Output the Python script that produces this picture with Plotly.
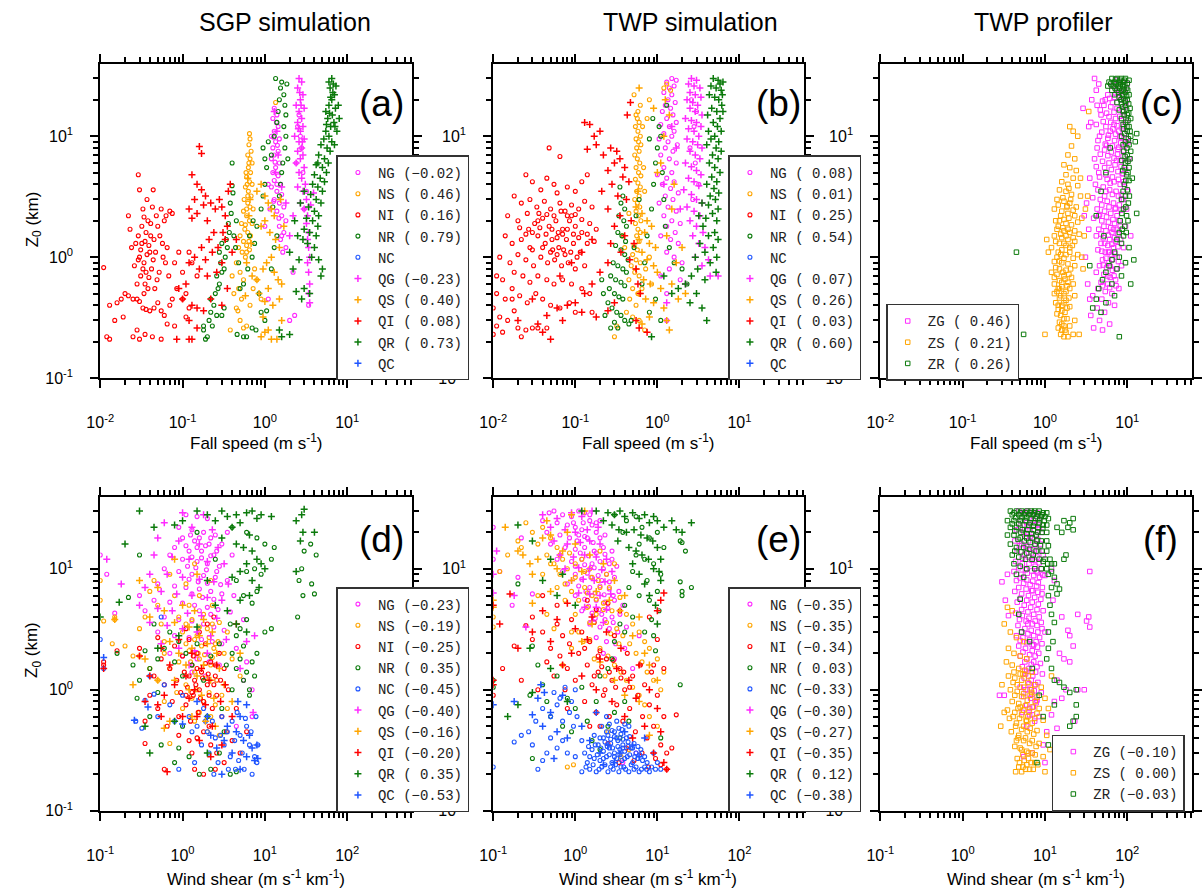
import plotly.graph_objects as go

# ---------------- text / categories ----------------
COL_TITLES = ["SGP simulation", "TWP simulation", "TWP profiler"]
PANEL_LABELS = ["(a)", "(b)", "(c)", "(d)", "(e)", "(f)"]
SIM_NAMES = ["NG", "NS", "NI", "NR", "NC", "QG", "QS", "QI", "QR", "QC"]
PROF_NAMES = ["ZG", "ZS", "ZR"]

CORR_A = [-0.02, 0.46, 0.16, 0.79, None, -0.23, 0.40, 0.08, 0.73, None]
CORR_B = [0.08, 0.01, 0.25, 0.54, None, 0.07, 0.26, 0.03, 0.60, None]
CORR_C = [0.46, 0.21, 0.26]
CORR_D = [-0.23, -0.19, -0.25, 0.35, -0.45, -0.40, -0.16, -0.20, 0.35, -0.53]
CORR_E = [-0.35, -0.35, -0.34, 0.03, -0.33, -0.30, -0.27, -0.35, 0.12, -0.38]
CORR_F = [-0.10, 0.00, -0.03]

X_TOP_TICKS = [0.01, 0.1, 1, 10]
X_TOP_TEXT = ["10<sup>-2</sup>", "10<sup>-1</sup>", "10<sup>0</sup>", "10<sup>1</sup>"]
X_BOT_TICKS = [0.1, 1, 10, 100]
X_BOT_TEXT = ["10<sup>-1</sup>", "10<sup>0</sup>", "10<sup>1</sup>", "10<sup>2</sup>"]
Y_TICKS = [0.1, 1, 10]
Y_TEXT = ["10<sup>-1</sup>", "10<sup>0</sup>", "10<sup>1</sup>"]
X_TOP_TITLE = "Fall speed (m s<sup>-1</sup>)"
X_BOT_TITLE = "Wind shear (m s<sup>-1</sup> km<sup>-1</sup>)"
Y_TITLE = "Z<sub>0</sub> (km)"

# ---------------- panel (a): SGP simulation, fall speed (x) vs Z0 (y) ----------------
A_NG = [(1.3,17),(1.4,15),(1.25,14),(1.45,12),(1.3,11),(1.2,10),(1.5,9.5),(1.35,9),(1.25,8),(1.45,7.5),(1.3,7),(1.2,6.5),
        (1.5,6),(1.35,5.5),(1.25,5),(1.45,4.7),(1.3,4.3),(1.55,4),(1.2,3.8),(1.4,3.5),(1.6,3.3),(1.3,3),(1.5,2.8),(1.7,2.6),
        (1.4,2.4),(1.6,2.2),(1.8,2.0),(1.5,1.8),(1.7,1.6),(1.55,1.4),(1.8,1.2),(1.65,1.1),(1.1,4),(1.15,2.5),(1.0,1.8),
        (2.5,12),(2.7,10),(2.6,15),(2.8,8),(2.4,6),(2.9,5),(3.2,3.5),(3.0,2.5),(2.2,0.75),(2.0,0.3),(2.3,0.33),(3.4,0.4),(1.1,0.45),
        (1.38,13),(1.28,9.8),(1.42,8.4),(1.33,6.1),(1.4,4.0),(1.28,2.9),(1.48,2.1),(1.6,1.5)]
A_NS = [(0.65,10.5),(0.66,9.5),(0.64,8.5),(0.68,7.5),(0.62,7),(0.66,6.5),(0.70,6),(0.63,5.5),(0.67,5),(0.60,4.6),(0.65,4.2),
        (0.70,4),(0.58,3.8),(0.63,3.5),(0.68,3.2),(0.56,3),(0.62,2.8),(0.66,2.6),(0.72,2.5),(0.55,2.4),(0.60,2.2),(0.65,2.0),
        (0.70,1.9),(0.52,1.9),(0.57,1.7),(0.62,1.6),(0.67,1.5),(0.50,1.5),(0.55,1.35),(0.60,1.25),(0.65,1.15),(0.48,1.2),
        (0.53,1.1),(0.58,1.0),(0.45,0.9),(0.50,0.75),(0.55,0.65),(0.48,0.55),(0.52,0.45),(0.45,0.38),(0.47,0.36),(0.50,0.3),
        (0.55,0.26),(0.60,0.27),(0.42,0.5),(0.40,0.7),(0.75,0.8),(0.8,0.65),(0.72,0.55),(0.66,0.4),(0.9,0.45),(0.38,0.25),
        (0.62,3.2),(0.59,5.0),(1.35,19),(0.64,6.0),(0.61,4.0),(0.6,2.5),(0.58,1.85),(0.64,1.35),(0.6,1.1)]
A_NI = [(0.030,1.0),(0.032,1.3),(0.034,0.9),(0.036,1.6),(0.038,2.0),(0.031,0.7),(0.035,0.6),(0.040,1.1),(0.042,0.8),
        (0.045,1.4),(0.048,2.2),(0.050,1.8),(0.033,2.5),(0.037,3.0),(0.030,3.6),(0.029,4.8),(0.044,3.6),(0.055,2.5),
        (0.060,2.0),(0.065,1.2),(0.070,2.4),(0.075,2.3),(0.058,1.0),(0.052,0.75),(0.046,0.55),(0.038,0.55),(0.034,0.5),
        (0.028,0.6),(0.026,0.85),(0.024,1.2),(0.022,2.2),(0.023,1.7),(0.027,1.3),(0.041,1.9),(0.047,1.1),(0.053,1.5),
        (0.062,0.9),(0.068,0.7),(0.080,0.9),(0.090,1.1),(0.085,0.55),(0.10,0.45),(0.075,0.45),(0.011,0.82),
        (0.013,0.4),(0.016,0.42),(0.018,0.45),(0.020,0.5),(0.022,0.48),(0.025,0.45),(0.028,0.45),(0.030,0.43),(0.033,0.38),
        (0.036,0.37),(0.040,0.36),(0.045,0.38),(0.050,0.42),(0.055,0.36),(0.060,0.33),(0.070,0.4),(0.012,0.22),(0.013,0.21),
        (0.015,0.3),(0.019,0.32),(0.025,0.22),(0.028,0.25),(0.030,0.21),(0.035,0.23),(0.043,0.22),(0.055,0.21),(0.065,0.28),
        (0.080,0.27),(0.12,0.38),(0.11,0.32),(0.11,0.5),(0.13,0.9),(0.15,0.7),(0.12,1.1),(0.10,0.75),(0.032,1.8),(0.039,1.25),
        (0.044,0.95),(0.036,0.75),(0.029,1.5),(0.049,0.65),(0.057,1.3),(0.043,2.6),(0.063,2.2),(0.031,1.15),(0.035,1.35),
        (0.033,0.8),(0.037,1.05),(0.041,1.5),(0.029,0.95),(0.034,2.15),(0.039,0.68)]
A_NR = [(0.18,0.25),(0.19,0.21),(0.20,0.22),(0.18,0.27),(0.21,0.3),(0.22,0.35),(0.24,0.4),(0.22,0.45),(0.25,0.5),(0.27,0.55),
        (0.28,0.6),(0.26,0.7),(0.30,0.75),(0.32,0.8),(0.29,0.9),(0.33,1.0),(0.35,1.2),(0.34,1.4),(0.37,1.6),(0.36,1.9),
        (0.39,2.3),(0.38,2.8),(0.41,3.4),(0.40,3.9),(0.40,6.0),(0.30,1.3),(0.28,1.1),(0.42,1.5),(0.45,2.0),(0.44,1.2),
        (0.48,0.9),(0.50,0.55),(0.23,0.27),(0.30,0.33),(0.32,0.38),(0.26,0.33),(0.46,0.23),(0.55,0.22),(0.60,0.22),
        (0.55,0.6),(0.62,0.8),(0.70,1.0),(0.75,1.3),(0.80,1.8),(0.72,2.0),(0.65,1.5),(0.90,2.5),(0.95,3.2),(1.0,4.0),
        (1.05,5.5),(1.0,6.5),(0.95,8.0),(1.1,9.0),(1.2,7.0),(1.3,10),(1.4,13),(1.45,16),(1.5,20),(1.55,25),(1.6,28),
        (1.35,30),(1.7,22),(1.75,18),(1.8,15),(1.7,12),(1.8,10),(1.75,8),(1.65,6),(1.6,5),(1.55,4),(1.5,3.2),(1.25,2.6),
        (1.9,6.5),(1.85,27),(1.0,0.3),(1.05,0.36),(0.85,0.5),(0.9,0.35),(1.2,0.8),(1.3,1.2),(1.4,1.5),(0.78,0.25),(0.7,0.26)]
A_NC = []
A_QG = [(2.6,30),(2.8,28),(2.5,25),(2.9,22),(2.7,20),(2.4,18),(3.0,17),(2.6,16),(2.8,14),(2.5,13),(2.9,12),(2.7,11),
        (2.3,10),(3.0,9.5),(2.6,9),(2.8,8),(2.5,7.5),(2.9,7),(2.7,6.5),(2.4,6),(3.0,5.5),(2.6,5),(2.8,4.5),(3.1,4),
        (2.5,3.8),(2.9,3.5),(3.2,3),(2.7,2.8),(3.0,2.5),(3.3,2.2),(3.2,1.9),(3.4,1.6),(3.3,1.4),(3.4,1.2),(3.5,1.0),
        (3.3,0.9),(3.4,0.75),(3.5,0.6),(3.4,0.5),(3.5,0.42),(1.3,16),(1.4,11),(1.45,7),(1.35,5),(1.6,3.8),(1.8,2.8),
        (2.0,1.5),(2.2,2.2),(3.6,2.7),(3.9,3.4),(2.65,23),(2.75,18),(2.55,11.5),(2.85,9)]
A_QS = [(0.8,3.5),(0.9,4.0),(1.0,3.2),(1.1,2.8),(1.2,2.5),(1.3,2.2),(1.0,2.0),(0.9,1.8),(1.15,1.6),(1.35,1.4),(1.5,1.2),
        (1.2,1.0),(1.05,0.9),(0.95,0.8),(1.3,0.75),(1.45,0.65),(1.6,0.6),(1.1,0.55),(0.85,0.5),(1.0,0.43),(1.25,0.4),
        (1.5,0.45),(0.8,0.65),(0.7,0.7),(0.6,0.9),(0.9,0.22),(1.0,0.24),(1.2,0.21),(1.4,0.21),(1.1,0.25),(0.95,0.32),
        (1.6,0.3),(0.62,4.5),(0.66,3),(0.64,2.2),(0.68,1.3),(0.58,0.48),(1.55,3.0),(1.7,1.8)]
A_QI = [(0.16,8.2),(0.17,7.2),(0.13,4.8),(0.15,4.0),(0.17,3.6),(0.19,3.2),(0.14,3.0),(0.12,2.5),(0.13,2.1),(0.15,2.3),
        (0.18,2.7),(0.20,2.0),(0.22,2.8),(0.25,2.5),(0.28,3.0),(0.30,2.6),(0.33,2.2),(0.35,1.8),(0.24,1.6),(0.21,1.4),
        (0.17,1.2),(0.14,1.0),(0.12,0.9),(0.16,0.8),(0.19,0.95),(0.23,1.1),(0.27,1.2),(0.30,0.9),(0.26,0.75),(0.20,0.7),
        (0.11,0.6),(0.09,0.55),(0.10,0.45),(0.13,0.4),(0.15,0.38),(0.18,0.36),(0.22,0.45),(0.12,0.3),(0.085,0.21),
        (0.12,0.21),(0.13,0.21),(0.15,0.26),(0.30,0.4),(0.35,0.55),(0.36,3.5),(0.38,4.0),(0.33,1.4),(0.31,1.6),
        (0.40,1.1),(0.45,1.4)]
A_QR = [(6.5,30),(6.8,27),(6.2,25),(7.0,22),(6.5,20),(6.0,18),(7.2,17),(6.6,15),(5.8,14),(6.9,13),(6.3,12),(5.5,11),
        (7.5,11),(6.0,10),(5.2,9.5),(6.5,9),(4.8,8.5),(5.7,8),(6.2,7.5),(4.5,7),(5.3,6.5),(5.9,6),(4.2,5.8),(5.0,5.5),
        (5.6,5),(4.0,4.8),(4.7,4.5),(5.3,4.2),(3.8,4),(4.4,3.8),(5.0,3.5),(3.6,3.3),(4.2,3),(4.8,2.8),(3.4,2.6),(4.0,2.4),
        (4.5,2.2),(3.2,2.1),(3.8,2.0),(4.4,1.8),(3.0,1.7),(3.5,1.6),(4.2,1.5),(2.9,1.4),(3.3,1.3),(4.0,1.2),(3.7,1.0),
        (4.5,0.95),(5.0,0.8),(4.8,0.7),(2.6,0.95),(2.2,0.8),(2.0,1.1),(2.5,1.5),(2.3,2.0),(2.7,2.8),(3.0,0.55),(2.8,0.45),
        (2.4,0.52),(1.6,0.22),(2.0,0.23),(1.5,0.25),(3.5,0.5),(7.8,18),(8.0,14),(7.3,26),(6.0,28),(5.5,16),(7.0,8.5),
        (4.4,6),(3.0,3.5),(6.7,23),(6.3,21),(6.1,15.5),(7.1,12),(5.6,12.5)]
A_QC = []

# ---------------- panel (b): TWP simulation, fall speed vs Z0 ----------------
B_NG = [(1.5,30),(1.7,29),(1.3,28),(1.6,26),(1.4,25),(1.2,23),(1.5,22),(1.35,20),(1.65,19),(1.25,18),(1.45,17),(1.15,16),
        (1.55,15),(1.3,14),(1.7,13),(1.1,12.5),(1.4,12),(1.6,11),(1.2,10.5),(1.5,10),(1.05,9.5),(1.35,9),(1.75,8.5),
        (1.25,8),(1.55,7.5),(1.1,7),(1.4,6.5),(1.7,6),(1.2,5.5),(1.5,5),(1.0,4.8),(1.3,4.5),(1.6,4.2),(1.15,4.0),
        (1.45,3.7),(1.8,3.4),(1.25,3.2),(1.55,3.0),(1.05,2.8),(1.35,2.6),(1.7,2.4),(1.2,2.2),(1.5,2.0),(1.9,1.9),(1.3,1.8),
        (1.65,1.6),(1.1,1.5),(1.45,1.4),(1.8,1.3),(1.3,1.1),(1.6,1.0),(2.0,0.9),(1.4,0.8),(1.1,0.7),(1.9,0.65),(1.3,0.5),
        (1.3,0.3),(2.5,8),(2.8,12),(3.0,16),(2.6,20),(2.9,6),(3.2,4),(2.7,3)]
B_NS = [(0.52,22),(0.62,18),(0.58,16),(0.55,15),(0.57,14),(0.60,13),(0.54,12),(0.58,11),(0.62,10),(0.55,9.5),(0.59,9),
        (0.63,8.5),(0.56,8),(0.60,7.5),(0.53,7),(0.57,6.5),(0.61,6),(0.55,5.5),(0.59,5),(0.63,4.7),(0.54,4.4),(0.58,4.1),
        (0.62,3.8),(0.56,3.5),(0.60,3.2),(0.53,3.0),(0.57,2.8),(0.61,2.6),(0.55,2.4),(0.59,2.2),(0.63,2.0),(0.54,1.9),
        (0.58,1.7),(0.62,1.6),(0.56,1.5),(0.60,1.35),(0.52,1.25),(0.57,1.15),(0.50,1.05),(0.55,0.95),(0.62,0.9),
        (0.48,0.85),(0.53,0.75),(0.60,0.7),(0.45,0.65),(0.50,0.55),(0.58,0.5),(0.46,0.45),(0.55,0.4),(0.42,0.35),
        (0.50,0.32),(0.60,0.3),(0.70,0.25),(0.30,0.22),(0.32,0.27),(0.65,0.55),(0.72,0.8),(0.80,1.0),(0.85,0.6),
        (0.40,1.2),(0.38,1.5),(0.45,2.3),(0.68,5.5),(0.70,3.5),(0.66,12),(1.2,25),(1.3,27),(1.45,24),(0.75,14),(0.8,20)]
B_NI = [(0.048,8),(0.065,6.8),(0.025,4.8),(0.030,4.2),(0.045,4.5),(0.055,4.0),(0.038,3.6),(0.060,3.4),(0.080,3.8),
        (0.10,3.5),(0.12,4.2),(0.14,4.8),(0.018,3.2),(0.022,2.8),(0.028,3.0),(0.034,2.6),(0.042,2.9),(0.05,2.5),
        (0.065,2.8),(0.075,2.4),(0.09,2.7),(0.11,2.5),(0.13,2.9),(0.16,2.6),(0.015,2.2),(0.020,2.0),(0.026,2.3),
        (0.032,1.9),(0.040,2.1),(0.048,1.8),(0.058,2.0),(0.07,1.7),(0.085,2.0),(0.10,1.8),(0.12,1.6),(0.15,1.9),
        (0.18,1.7),(0.014,1.5),(0.017,1.3),(0.022,1.4),(0.028,1.2),(0.035,1.5),(0.043,1.3),(0.052,1.4),(0.063,1.2),
        (0.078,1.4),(0.095,1.3),(0.115,1.1),(0.14,1.3),(0.012,1.0),(0.016,0.9),(0.020,1.05),(0.025,0.95),(0.031,0.85),
        (0.038,1.0),(0.046,0.9),(0.056,0.95),(0.068,0.85),(0.082,0.9),(0.10,0.8),(0.13,0.85),(0.011,0.7),(0.013,0.65),
        (0.018,0.75),(0.023,0.7),(0.028,0.62),(0.035,0.7),(0.045,0.65),(0.055,0.6),(0.07,0.65),(0.09,0.6),(0.12,0.55),
        (0.011,0.5),(0.014,0.45),(0.017,0.55),(0.021,0.48),(0.026,0.42),(0.033,0.5),(0.04,0.45),(0.05,0.4),(0.065,0.38),
        (0.085,0.42),(0.10,0.35),(0.010,0.38),(0.012,0.32),(0.015,0.3),(0.018,0.36),(0.011,0.27),(0.013,0.24),
        (0.010,0.23),(0.02,0.26),(0.025,0.25),(0.030,0.26),(0.035,0.26),(0.022,0.22),(0.16,0.35),(0.15,0.5),
        (0.045,0.26),(0.017,0.45),(0.036,2.3),(0.062,1.6),(0.075,1.05),(0.027,1.7),(0.053,1.15),(0.09,2.2),(0.11,1.45),
        (0.03,1.6),(0.037,1.75),(0.044,1.55),(0.052,1.7),(0.06,1.45),(0.07,1.55),(0.08,1.7),(0.095,1.55),(0.035,2.0),
        (0.045,2.25),(0.055,2.2),(0.067,2.4),(0.08,2.2),(0.1,2.25),(0.12,2.05),(0.04,1.2),(0.05,1.1),(0.06,1.05),
        (0.072,1.15),(0.088,1.1),(0.105,1.0),(0.03,1.15),(0.025,1.55),(0.021,1.75),(0.14,1.55),(0.17,1.35)]
B_NR = [(0.35,3.8),(0.38,3.2),(0.36,2.8),(0.40,2.5),(0.34,2.2),(0.39,2.0),(0.42,1.8),(0.33,1.6),(0.37,1.5),(0.41,1.35),
        (0.31,1.25),(0.36,1.15),(0.40,1.05),(0.44,0.95),(0.29,0.9),(0.33,0.85),(0.38,0.8),(0.42,0.75),(0.27,0.7),
        (0.31,0.65),(0.36,0.62),(0.40,0.58),(0.26,0.55),(0.30,0.5),(0.34,0.47),(0.38,0.45),(0.25,0.42),(0.28,0.38),
        (0.32,0.35),(0.36,0.33),(0.40,0.3),(0.30,0.29),(0.27,0.26),(0.33,0.26),(0.45,0.28),(0.48,0.3),(0.23,0.33),
        (0.22,0.5),(0.21,0.65),(0.52,1.2),(0.55,2.2),(0.6,3),(0.85,2.5),(0.9,4),(0.95,6),(1.0,8),(1.05,12),(0.8,9.5),
        (0.88,14),(1.3,18),(1.1,10),(1.15,5),(1.2,3),(1.25,1.8),(1.4,1.2),(1.6,0.9),(2.0,0.8),(2.3,0.6),(0.75,1.5),
        (0.7,0.9),(0.65,0.6),(0.95,0.45),(0.8,0.35),(1.1,0.3)]
B_NC = []
B_QG = [(2.6,30),(3.0,29),(2.4,27),(2.8,26),(3.3,25),(2.5,23),(2.9,22),(3.4,21),(2.3,20),(2.7,19),(3.1,18),(2.5,17),
        (2.9,16),(3.5,15),(2.2,14),(2.6,13.5),(3.0,13),(3.4,12),(2.4,11.5),(2.8,11),(3.2,10),(2.3,9.5),(2.7,9),(3.1,8.5),
        (3.5,8),(2.5,7.5),(2.9,7),(3.3,6.5),(2.2,6),(2.6,5.6),(3.0,5.2),(3.4,4.8),(2.4,4.5),(2.8,4.2),(3.2,3.9),(2.1,3.6),
        (2.6,3.3),(3.0,3.0),(3.5,2.8),(2.3,2.6),(2.8,2.4),(3.3,2.2),(2.5,2.0),(3.0,1.8),(3.6,1.6),(2.7,1.5),(3.2,1.3),
        (3.8,1.2),(2.9,1.0),(4.2,0.95),(3.5,0.85),(4.4,0.7),(2.2,0.6),(1.3,0.42),(1.5,12),(1.7,8),(1.2,4),(1.9,2.5),(5.5,0.7)]
B_QS = [(0.55,2.6),(0.65,2.3),(0.75,2.0),(0.85,1.8),(0.7,1.6),(0.6,1.4),(0.8,1.3),(0.95,1.2),(0.65,1.1),(0.75,0.95),
        (0.9,0.85),(1.0,0.75),(0.55,0.8),(0.68,0.65),(0.82,0.6),(1.1,0.55),(0.6,0.5),(0.72,0.45),(0.9,0.42),(1.2,0.38),
        (0.8,0.32),(1.3,0.3),(1.4,0.25),(0.65,0.28),(1.5,0.6),(1.7,0.9),(2.0,1.2),(2.2,0.5),(1.8,0.45),(1.3,1.5),
        (1.5,2.5),(1.6,4),(1.1,6),(1.2,10),(1.4,15),(1.25,20),(0.6,25),(0.9,17),(1.0,5),(0.58,3.5)]
B_QI = [(0.47,19),(0.43,15),(0.13,13),(0.15,12.5),(0.17,10),(0.20,11),(0.18,8.5),(0.14,7.8),(0.22,7),(0.27,8),(0.32,7.5),
        (0.35,6.5),(0.30,6),(0.25,5.2),(0.40,5.5),(0.38,4.6),(0.45,4.2),(0.28,4),(0.21,3.5),(0.33,3.2),(0.42,3.0),(0.25,2.5),
        (0.35,2.2),(0.48,2.0),(0.30,1.8),(0.40,1.5),(0.52,1.3),(0.27,1.3),(0.36,1.1),(0.46,0.95),(0.55,0.8),(0.25,0.9),
        (0.20,0.75),(0.16,0.6),(0.13,0.5),(0.10,0.42),(0.08,0.40),(0.06,0.38),(0.045,0.33),(0.035,0.28),(0.04,0.24),
        (0.05,0.21),(0.07,0.3),(0.12,0.35),(0.18,0.32),(0.25,0.36),(0.3,0.42),(0.55,0.3),(0.6,0.26),(0.75,0.24),
        (0.02,0.3),(0.03,0.45),(0.065,0.7),(0.09,0.9),(0.12,1.1),(0.16,1.4),(0.62,0.5),(0.58,0.6)]
B_QR = [(4.8,30),(5.5,29),(5.8,27),(4.5,26),(5.2,25),(6.0,24),(4.3,22),(5.0,21),(5.6,20),(6.1,18),(4.6,17),(5.3,16),
        (4.1,15),(5.8,14),(4.8,13),(5.4,12),(4.2,11),(6.0,11),(5.0,10),(4.5,9.5),(5.6,9),(4.0,8.5),(5.2,8),(6.0,7.5),
        (4.7,7),(5.5,6.5),(4.3,6),(5.0,5.5),(5.8,5),(4.6,4.6),(5.3,4.2),(4.0,4.0),(4.9,3.7),(5.6,3.4),(4.4,3.2),(5.1,3.0),
        (4.2,2.7),(5.5,2.5),(4.7,2.3),(3.9,2.1),(5.3,2.0),(3.6,1.8),(5.0,1.6),(4.2,1.5),(5.5,1.4),(3.3,1.3),(4.8,1.2),
        (3.8,1.1),(5.3,1.0),(2.9,1.0),(4.4,0.9),(3.1,0.8),(5.2,0.75),(2.6,0.7),(3.8,0.65),(2.2,0.6),(3.0,0.5),(1.8,0.55),
        (2.5,0.42),(4.0,0.3),(3.5,0.38),(1.5,0.5),(0.85,0.22),(1.2,0.7),(6.3,28),(6.2,22),(6.3,16),(3.5,2.8),(3.2,2.2)]
B_QC = []

# ---------------- panel (c): TWP profiler, fall speed vs Z0 ----------------
C_ZG = [(4.0,30),(7.5,29),(8.8,28),(6.5,26),(7.8,25),(9.2,24),(5.8,22),(7.0,21),(8.4,20),(9.6,19),(5.2,18),(6.3,17.5),
        (7.5,17),(8.8,16),(4.8,15),(6.0,14.5),(7.2,14),(8.5,13.5),(9.8,13),(5.5,12),(6.7,11.5),(7.9,11),(9.2,10.5),(4.6,10),
        (5.8,9.6),(7.0,9.2),(8.3,8.8),(9.6,8.5),(4.3,8),(5.3,7.7),(6.4,7.4),(7.6,7.1),(8.9,6.8),(4.0,6.5),(5.0,6.2),(6.0,6.0),
        (7.1,5.8),(8.4,5.6),(9.5,5.3),(4.5,5.0),(5.5,4.8),(6.6,4.6),(7.8,4.4),(9.0,4.2),(4.1,4.0),(5.1,3.8),(6.1,3.6),
        (7.3,3.5),(8.5,3.3),(3.8,3.1),(4.7,3.0),(5.7,2.9),(6.8,2.8),(8.0,2.7),(4.3,2.5),(5.3,2.4),(6.3,2.3),(7.5,2.2),
        (3.9,2.1),(4.9,2.0),(5.9,1.95),(7.0,1.9),(8.2,1.8),(4.5,1.7),(5.5,1.65),(6.5,1.6),(7.7,1.55),(4.2,1.5),(5.1,1.45),
        (6.1,1.4),(7.2,1.35),(4.8,1.3),(5.8,1.25),(6.8,1.2),(4.4,1.15),(5.4,1.1),(6.4,1.05),(7.5,1.0),(5.0,0.95),(6.0,0.9),
        (4.6,0.85),(5.6,0.82),(6.6,0.78),(4.2,0.75),(5.2,0.72),(6.2,0.68),(7.2,0.65),(4.8,0.62),(5.8,0.6),(4.4,0.55),
        (5.4,0.52),(6.5,0.5),(3.8,0.48),(4.9,0.45),(5.9,0.42),(7.0,0.4),(4.3,0.38),(5.3,0.35),(3.6,0.33),(4.6,0.3),
        (6.1,0.28),(3.9,0.26),(5.0,0.25),(3.5,0.45),(3.3,0.6),(3.1,1.0),(3.4,1.7),(3.2,2.8),(3.5,4.5),(3.6,13),(3.4,12),
        (2.9,17),(3.7,20),(4.2,24),(4.5,27),(9.5,1.8),(9.8,2.5),(10.2,3.5),(10.5,6.5),(10.3,9),(11,1.5),(8.5,0.85),
        (9.0,1.2),(7.9,0.55),(10,27),(3.0,2.2),(6.9,12.5),(8.1,9.9),(5.6,8.4),(7.4,6.3),(6.2,4.1),(8.7,4.9),(5.3,3.2),
        (7.1,2.5),(6.6,19),(8.0,23),(5.4,20),(9.0,15),(6.2,11),(7.7,7.8),(8.6,3.0),(6.8,1.7),(5.9,1.1),(4.5,2.2),
        (4.3,18),(5.0,19.5),(6.1,20.5),(7.3,22.5),(8.6,21.5),(9.4,17.5),(4.7,16.5),(5.6,15.5),(6.9,15.8),(8.1,14.6),
        (9.1,12),(4.2,12.5),(5.1,13.2),(6.3,13),(7.5,12.2),(8.7,11.5),(4.9,10.8),(5.9,10.2),(7.2,10.4),(8.5,9.8),(9.7,9.5),
        (4.4,9.2),(5.4,8.6),(6.6,8.3),(7.9,8.1),(9.1,7.6),(4.7,7.1),(5.8,6.9),(6.9,6.6),(8.2,6.3),(9.5,6.0),(4.2,5.6),
        (5.3,5.5),(6.4,5.3),(7.7,5.1),(8.9,4.9),(4.6,4.6),(5.7,4.4),(6.9,4.2),(8.2,4.0),(9.3,3.8),(4.4,3.6),(5.5,3.5),
        (6.6,3.3),(7.8,3.2),(9.0,3.0),(4.9,2.7),(6.0,2.6),(7.2,2.55),(8.4,2.45),(4.6,2.25),(5.6,2.15),(6.7,2.05),(7.9,2.0),
        (5.2,1.8),(6.3,1.75),(7.5,1.7),(4.8,1.55),(5.9,1.52),(7.0,1.45),(8.3,1.4),(5.3,1.3),(6.5,1.28),(7.7,1.22),(4.9,1.12),
        (6.0,1.1),(7.1,1.07),(5.5,0.98),(6.6,0.96),(7.8,0.92),(5.1,0.86),(6.2,0.84),(7.3,0.8),(5.8,0.7),(6.9,0.7),(5.0,0.58),
        (6.1,0.56),(7.3,0.58)]
C_ZS = [(2.1,8.3),(1.9,7.0),(2.3,6.5),(1.7,5.8),(2.0,5.5),(2.4,5.2),(1.8,4.8),(2.2,4.5),(1.6,4.2),(1.9,4.0),(2.5,3.9),
        (1.5,3.6),(1.8,3.5),(2.1,3.3),(2.7,3.2),(1.4,3.0),(1.7,2.9),(2.0,2.8),(2.4,2.6),(1.3,2.5),(1.6,2.4),(1.9,2.3),
        (2.3,2.2),(2.8,2.1),(1.5,2.0),(1.8,1.9),(2.1,1.85),(1.4,1.7),(1.7,1.65),(2.0,1.6),(2.6,1.55),(1.3,1.5),(1.6,1.45),
        (1.9,1.4),(2.3,1.35),(1.5,1.3),(1.8,1.25),(1.2,1.2),(1.6,1.15),(2.0,1.1),(2.5,1.05),(1.4,1.0),(1.7,0.98),
        (1.3,0.92),(1.6,0.9),(1.9,0.88),(2.3,0.85),(1.5,0.8),(1.8,0.78),(1.2,0.75),(1.4,0.72),(1.7,0.7),(2.1,0.68),
        (1.5,0.64),(1.9,0.62),(1.3,0.6),(1.6,0.57),(2.0,0.55),(1.4,0.52),(1.7,0.5),(2.3,0.48),(1.5,0.46),(1.8,0.44),
        (1.35,0.42),(1.6,0.4),(2.0,0.39),(1.45,0.37),(1.75,0.35),(1.55,0.33),(1.85,0.31),(1.5,0.29),(1.7,0.27),(1.6,0.25),
        (1.8,0.24),(1.55,0.23),(1.7,0.22),(1.9,0.22),(2.2,0.23),(2.6,0.23),(1.0,0.23),(1.1,1.1),(1.05,1.4),(2.8,1.0),
        (3.0,1.5),(3.1,2.5),(2.9,0.8),(2.7,4.5),(2.2,11),(2.0,12),(2.5,10),(3.3,3.2),(3.4,16),(1.65,1.75),(1.85,2.6),
        (1.55,1.05),(1.75,0.66),(1.45,0.55),(2.2,1.45),(1.95,3.7),
        (1.65,3.1),(2.05,3.0),(1.45,2.7),(1.85,2.65),(2.2,2.45),(1.55,2.2),(1.95,2.1),(1.35,2.0),(1.7,2.05),(2.5,1.95),
        (1.45,1.8),(1.9,1.7),(2.3,1.65),(1.55,1.55),(1.8,1.5),(2.15,1.25),(1.35,1.35),(1.7,1.3),(2.0,1.2),(1.45,1.1),
        (1.8,1.05),(2.2,0.98),(1.5,0.93),(2.05,0.8),(1.35,0.82),(1.65,0.75),(1.95,0.72),(1.3,0.68),(1.6,0.62),(1.85,0.58),
        (2.2,0.6),(1.5,0.55),(1.8,0.52),(1.3,0.5),(1.55,0.48),(1.95,0.46),(1.7,0.42),(1.45,0.4),(1.85,0.38),(1.6,0.36),
        (1.4,0.34),(1.7,0.31),(1.6,0.28),(1.45,0.26),(1.75,0.25),(2.0,0.27),(2.3,0.3)]
C_ZR = [(6.5,30),(7.5,30),(8.5,30),(9.5,30),(10.5,29),(6.0,28),(7.0,28),(8.0,28),(9.0,28),(10,27.5),(5.8,26),(6.8,26),
        (7.8,26),(8.8,26),(9.8,25),(6.5,24),(7.5,24),(8.5,23.5),(9.5,23),(10.5,22),(7.0,22),(8.0,21),(9.0,20.5),(10,20),
        (7.5,19),(8.5,18.5),(9.5,18),(10.8,17),(8.0,16.5),(9.0,16),(10,15),(11,14),(8.5,14),(9.5,13),(10.5,12),(9,11.5),
        (10,11),(11,10),(8.5,10),(9.5,9),(10.5,8.5),(11,7.5),(9,7.5),(10,7),(9.5,6),(10.5,5.5),(8.8,5.2),(9.8,4.8),
        (10.5,4.3),(9.2,4),(10,3.6),(9.5,3.2),(8.5,3.0),(10.3,2.8),(9,2.5),(9.8,2.2),(8.2,2.0),(9.3,1.8),(8.0,1.6),
        (9.0,1.5),(7.5,1.4),(8.5,1.3),(10.5,1.2),(7.0,1.1),(8.0,1.0),(6.5,0.95),(9.5,0.9),(6.0,0.85),(7.5,0.8),(5.5,0.75),
        (8.5,0.7),(5.0,0.65),(12,0.95),(13,2.3),(12.5,9),(13,10.5),(11,0.6),(4.5,0.55),(6.5,0.6),(4.2,0.45),(5.5,0.42),
        (7.0,0.48),(3.8,0.38),(4.8,0.35),(8,0.22),(0.45,1.1),(0.55,0.23),(3.5,0.85),(4.2,2.2),(4.8,3.5),(5.5,5),(6.2,8),
        (5.2,1.5),(11.5,4.5),
        (7.2,29.5),(8.2,29),(9.2,29),(6.3,27),(7.3,27),(8.3,27),(9.3,26.5),(7.1,25),(8.1,25),(9.1,24.5),(10.1,24),(7.8,23),
        (8.8,22),(9.8,21.5),(8.4,20),(9.4,19.5),(10.4,18.5),(8.8,17.5),(9.8,16.5),(10.4,15.5),(9.2,15),(10.2,13.5),
        (8.9,12.5),(9.9,12),(10.8,11),(9.3,10.5),(10.3,9.5),(8.9,8.5),(9.9,8),(10.8,6.5),(9.4,6.8),(10.2,6.2),(8.6,6.3),
        (9.2,5.5),(10.2,5.0),(9.6,4.3),(8.9,3.5),(10.6,3.2),(9.6,2.6),(8.6,2.3),(10.2,2.0),(8.7,1.7),(9.7,1.6)]

# ---------------- panel (d): SGP simulation, wind shear vs Z0 ----------------
D_NG = [(1.1,28),(1.5,27),(2.0,26),(0.9,22),(1.3,21),(1.8,20),(2.5,19),(1.0,18),(1.4,17),(2.1,16),(3.0,16),(0.8,15),
        (1.2,14),(1.7,14),(2.4,13),(0.7,13),(1.0,12),(1.5,11.5),(2.0,11),(2.8,10.5),(0.6,10),(0.9,9.5),(1.3,9),(1.8,8.8),
        (2.5,8.5),(3.5,8),(0.5,7.5),(0.8,7.2),(1.1,7),(1.6,6.8),(2.2,6.5),(3.0,6.2),(4.2,6),(0.45,5.5),(0.7,5.3),(1.0,5.2),
        (1.4,5),(2.0,4.8),(2.7,4.6),(3.8,4.4),(0.6,4),(0.9,3.8),(1.3,3.7),(1.8,3.5),(2.4,3.3),(3.2,3.1),(5.5,3.8),(0.5,3),
        (0.8,2.8),(1.2,2.7),(1.7,2.6),(2.3,2.5),(3.0,2.4),(4.5,2.2),(0.7,2.0),(1.0,1.9),(1.5,1.8),(2.1,1.7),(2.8,1.6),
        (6.0,1.7),(1.3,1.4),(1.9,1.3),(2.6,1.2),(7.0,1.0),(5.5,1.2),(0.3,6.0),(0.35,4.5),(0.15,4.3),(0.1,13),(0.12,9),
        (3.5,20),(4.0,13),(7.0,0.6),(4.5,0.5),
        (1.25,19),(1.6,18),(2.2,18),(1.1,15.5),(1.5,15),(1.9,15.5),(2.6,14),(1.3,12.5),(1.7,12.3),(2.2,12.8),(1.15,10.5),
        (1.45,10.2),(1.95,9.8),(2.6,9.5),(1.2,8.2),(1.55,7.8),(2.0,7.6),(2.9,7.4),(1.3,6.2),(1.75,5.8),(2.4,5.6),(1.6,4.5),
        (2.2,4.2)]
D_NS = [(0.1,8),(0.1,5.5),(0.11,3.7),(0.15,4.0),(0.2,2.3),(0.25,1.9),(0.3,3.2),(0.35,4.0),(0.4,6.5),(0.45,8),(0.5,5),
        (0.55,3.5),(0.6,2.5),(0.7,9),(0.8,6),(0.9,4),(1.0,3),(1.1,7.5),(1.2,5),(1.3,3.8),(1.5,2.8),(1.6,6),(1.8,4.2),
        (2.0,3.2),(2.3,5),(2.5,2.4),(2.8,3.6),(3.2,2),(1.2,2.1),(1.6,1.8),(2.2,1.6),(0.9,1.7),(0.7,1.5),(1.4,1.4),
        (1.9,1.25),(2.6,1.2),(1.1,1.1),(1.5,1.0),(2.1,0.95),(3.0,0.9),(0.85,0.95),(1.3,0.85),(1.8,0.8),(2.5,0.75),
        (1.0,0.7),(1.6,0.65),(2.2,0.6),(3.5,0.7),(0.6,0.8),(0.7,0.36),(1.4,0.55),(2.0,0.45),(2.8,0.42),(0.5,1.2),
        (0.4,1.5),(0.3,1.9),(0.6,2.0),(3.5,3),(4.0,1.8),(5,1.3),(1.4,11),(2.2,8),(0.15,3.8),(0.14,2.4),
        (1.1,2.4),(1.4,2.6),(1.7,2.3),(2.1,2.7),(2.4,2.2),(1.25,1.7),(1.55,2.0),(1.85,1.95),(2.3,1.85),(2.7,2.5),(1.6,3.3),
        (2.3,3.5),(1.1,3.5)]
D_NI = [(0.11,1.7),(0.11,1.6),(0.16,2.1),(0.3,2.2),(0.35,0.55),(0.35,0.36),(0.4,0.9),(0.45,1.3),(0.5,0.7),(0.55,1.8),
        (0.6,1.1),(0.65,0.5),(0.7,1.5),(0.75,0.8),(0.8,2.3),(0.85,1.2),(0.9,0.6),(0.95,0.95),(1.0,1.9),(1.05,1.4),
        (1.1,0.75),(1.15,1.05),(1.2,2.6),(1.25,0.55),(1.3,1.6),(1.35,0.9),(1.4,1.2),(1.5,2.0),(1.55,0.65),(1.6,1.0),
        (1.7,1.4),(1.8,0.8),(1.9,2.4),(2.0,1.1),(2.1,0.5),(2.2,1.7),(2.3,0.7),(2.5,1.3),(2.6,0.9),(2.8,2.0),(3.0,0.6),
        (3.2,1.5),(3.4,0.45),(3.6,1.0),(4.0,0.38),(4.5,0.7),(5,0.3),(6,0.45),(1.5,0.4),(1.8,0.45),(2.2,0.35),(2.6,0.3),
        (1.2,0.38),(0.9,0.42),(1.4,0.22),(1.8,0.2),(2.5,0.22),(3.2,0.25),(0.6,0.22),(1.6,3.0),(2.0,3.5),(1.1,3.2),
        (0.5,2.7),(2.4,4),(1.3,0.3),
        (1.2,1.3),(1.45,1.1),(1.75,1.25),(2.05,1.35),(1.3,0.95),(1.65,0.85),(2.1,0.9),(2.4,1.1),(1.1,0.9),(1.5,1.5),
        (1.9,1.65),(1.35,1.9),(2.5,1.6),(2.9,1.2)]
D_NR = [(0.3,13),(0.22,5.8),(0.16,2),(0.25,1.6),(0.3,1.2),(0.35,2.1),(0.4,1.5),(0.45,3.5),(0.5,1.8),(0.6,2.2),(0.7,3.0),
        (0.8,1.7),(0.9,2.5),(1.0,1.3),(1.1,2.0),(1.3,1.6),(1.5,2.4),(1.8,1.2),(2.2,1.9),(2.8,2.4),(3.4,1.6),(4,2.0),
        (4.5,1.5),(5,1.8),(5.5,1.2),(6,1.4),(6.5,1.0),(7,1.7),(7.5,1.3),(8,2.0),(6.5,0.9),(5.5,2.3),(4.5,2.8),(3.8,3.5),
        (5,3.2),(6,3.8),(7,5.2),(8,6.5),(10,3),(12,3.2),(5.5,6),(4.5,8),(6,9.5),(7.5,10),(9,9),(12,12),(13,15),(10,16),
        (8,18),(6,20),(4,22),(25,4),(28,10),(29,6),(26,8),(30,14),(37,7.5),(40,6.2),(36,16),(42,13),(0.55,0.35),(0.8,0.25),
        (1.2,0.28),(1.6,0.2),(2.2,0.22),(2.8,0.3),(3.8,0.2),(4.5,0.21),(0.9,0.33),(0.4,0.6),(0.28,0.85),(0.5,0.95),
        (1.0,0.5),(2,0.6),(3,0.7),(4,1.0),(3.2,0.45),(2.5,12),(1.5,20)]
D_NC = [(0.1,2.6),(0.11,1.5),(0.27,0.55),(0.32,0.48),(0.35,0.82),(0.4,1.3),(0.45,0.92),(0.5,0.6),(0.55,4.0),(0.6,1.1),
        (0.7,0.75),(0.8,0.55),(0.9,0.22),(1.0,0.9),(1.2,0.6),(1.3,0.45),(1.4,0.25),(1.5,0.5),(1.7,0.35),(1.8,0.7),(2.0,0.45),
        (2.1,0.3),(2.3,0.55),(2.5,0.4),(2.7,0.25),(3.0,0.6),(3.2,0.35),(3.5,0.45),(3.8,0.28),(4.0,0.55),(4.3,0.38),
        (4.6,0.65),(5.0,0.42),(5.3,0.3),(5.6,0.22),(6.0,0.5),(6.5,0.35),(7.0,0.2),(7.5,0.28),(8.0,0.25),(8.2,0.35),
        (7.8,0.6),(6.8,0.45),(5.8,0.58),(4.8,0.26),(4.4,0.22),(2.4,0.2),(3.6,0.22),(2.9,0.42),(1.9,0.55)]
D_QG = [(1.0,29),(1.8,28),(0.6,24),(1.3,22),(2.3,21),(0.5,18),(0.9,17),(1.6,16),(2.7,15),(0.45,13),(0.75,12.5),(1.2,12),
        (2.0,11.5),(3.2,11),(0.4,9),(0.65,9),(1.0,8.5),(1.6,8.2),(2.4,7.8),(3.6,7.5),(0.35,7),(0.55,6.5),(0.85,6.2),(1.3,6),
        (2.0,5.8),(3.0,5.5),(0.3,5),(0.5,4.7),(0.75,4.5),(1.15,4.3),(1.7,4.1),(2.6,3.9),(0.4,3.6),(0.65,3.4),(1.0,3.2),
        (1.5,3.0),(2.2,2.8),(3.4,2.6),(0.55,2.4),(0.9,2.2),(1.4,2.1),(2.0,2.0),(6.0,2.5),(7.5,2.8),(1.2,1.6),(5.0,1.5),
        (0.12,12),(0.18,7.5),(7.2,0.65)]
D_QS = [(0.15,3.8),(0.3,8),(0.4,4),(0.5,7),(0.6,4.5),(0.7,2.5),(0.8,3.6),(1.0,5),(1.2,3.3),(1.4,4.5),(1.6,2.8),(1.8,3.8),
        (2.0,2.4),(2.3,3),(2.6,2),(0.9,2),(1.1,1.6),(1.3,2.2),(1.5,1.3),(1.8,1.6),(2.2,1.2),(2.8,1.5),(0.8,1.2),(1.2,1.0),
        (1.7,0.9),(2.4,0.85),(3.2,1.1),(0.7,0.55),(0.6,0.48),(1.3,0.6),(1.9,0.55),(2.5,0.5),(4,0.8),(5,2),(0.5,1.2),
        (0.35,1.8),(0.25,1.1),(1.5,9),(0.8,12)]
D_QI = [(0.11,1.5),(0.3,1.9),(0.35,0.8),(0.4,1.3),(0.5,0.75),(0.55,2.2),(0.6,0.9),(0.7,1.6),(0.8,1.1),(0.9,2.6),(1.0,0.6),
        (1.1,1.3),(1.2,0.85),(1.3,2.0),(1.4,1.0),(1.5,0.6),(1.7,1.5),(1.9,0.75),(2.1,1.2),(2.3,0.5),(2.6,1.6),(2.9,0.8),
        (3.3,1.1),(4.0,0.6),(0.65,0.21),(1.6,0.38),(2.2,0.28),(3.0,0.35),(0.55,0.6),(4.5,3.5)]
D_QR = [(0.3,30),(0.45,22),(0.8,23),(1.0,25),(1.5,30),(2.0,28),(2.5,25),(3.0,30),(3.5,27),(4,22),(4.5,28),(5,24),(6,29),
        (7,30),(8,26),(9,28),(12,27),(24,25),(28,28),(29,20),(40,20),(6.5,19),(3,18),(4.5,16),(5.5,15),(7,14),(8,12),(9,11),
        (10,10),(6,11),(5,9.5),(4,8.5),(7,8),(8.5,7),(6.5,6),(5,5.5),(3.5,4.5),(4.5,3.5),(6,3),(0.17,5.3),(0.1,4),(0.2,16),
        (0.5,2.2),(0.9,2.8),(1.5,3.3),(2.5,5),(2.0,8),(24,9.5),(27,17),(30,31),(0.35,0.5),(0.4,0.3),(0.8,0.55),(2.0,0.3)]
D_QC = [(0.11,1.85),(0.26,0.56),(0.38,0.72),(1.0,0.52),(1.5,0.8),(2.0,0.6),(2.2,0.42),(2.6,0.33),(3.0,0.2),(3.5,0.5),
        (4.0,0.3),(4.5,0.45),(5.0,0.6),(5.5,0.38),(6.0,0.28),(6.5,0.42),(7.0,0.33),(7.5,0.26),(8.0,0.35),(8.2,0.27),
        (5.0,0.22),(3.2,0.38),(4.7,0.8),(6.0,0.75)]

# ---------------- panel (e): TWP simulation, wind shear vs Z0 ----------------
E_NG = [(0.48,29),(0.55,30),(0.7,28),(0.9,27),(1.1,30),(1.3,29),(1.5,28),(0.4,25),(0.6,24),(0.8,23),(1.0,22),(1.25,24),
        (1.6,23),(2.0,25),(0.45,20),(0.65,19),(0.85,18),(1.1,19),(1.4,18),(1.8,20),(2.3,19),(0.5,16),(0.75,15),(1.0,14.5),
        (1.3,15),(1.7,14),(2.2,15),(2.8,14),(0.6,12),(0.9,11.5),(1.2,12),(1.6,11),(2.0,11.5),(2.6,11),(3.2,10.5),(0.7,9.5),
        (1.0,9),(1.4,9.2),(1.9,8.8),(2.4,9),(3.0,8.5),(0.8,7.5),(1.1,7.2),(1.5,7),(2.0,7.2),(2.6,6.8),(3.4,6.5),(1.0,6),
        (1.3,5.6),(1.8,5.5),(2.3,5.3),(3.0,5.5),(3.8,5),(1.2,4.5),(1.6,4.3),(2.1,4.2),(2.8,4),(3.5,4.2),(1.5,3.5),(2.0,3.3),
        (2.6,3.2),(3.3,3),(4.2,3.3),(1.8,2.7),(2.4,2.5),(3.1,2.4),(4.0,2.2),(2.2,2.0),(3.0,1.8),(0.22,18),(0.1,22),(0.1,12),
        (0.12,9.5),(0.2,8.5),(0.17,5),(0.3,6.2),(5,1.5),(6,2.8),(5.5,0.3),(3.8,0.25),
        (0.95,24),(1.2,21),(1.5,25),(1.8,24),(1.05,17),(1.3,18.5),(1.65,16.5),(2.0,18),(1.15,13.5),(1.45,12.8),(1.8,13.5),
        (2.3,13.2),(1.0,10.5),(1.3,10.8),(1.7,10.2),(2.2,10),(2.8,12),(1.2,8.2),(1.55,8.5),(2.1,8),(2.6,7.8),(1.35,6.5),
        (1.75,6.3),(2.25,6.1),(2.9,6.0),(1.45,4.9),(1.95,4.6),(2.5,4.7),(1.75,3.9),(2.3,3.8),(2.9,3.6)]
E_NS = [(0.1,3.3),(0.1,4),(0.12,9.5),(0.15,13),(0.2,17),(0.22,15),(0.25,24),(0.3,20),(0.35,16),(0.4,22),(0.45,13),(0.5,18),
        (0.55,11),(0.6,15),(0.65,9),(0.7,12),(0.75,7.5),(0.8,10),(0.9,6.5),(1.0,8.5),(1.1,5.5),(1.2,12),(1.3,7),(1.4,4.8),
        (1.5,10),(1.6,6),(1.8,4.2),(1.9,8),(2.0,14),(2.2,5.2),(2.4,3.6),(2.6,7),(2.8,4.5),(3.0,11),(3.2,3.2),(3.5,5.8),
        (3.8,2.8),(4.2,4.2),(4.6,2.4),(5,3.5),(5.5,2.0),(6,3),(6.5,1.7),(7,2.5),(7.5,1.4),(8,2.2),(9,1.2),(10,1.8),(11,1.0),
        (12,1.4),(1.1,3),(1.5,2.6),(2.0,2.2),(2.5,1.9),(3.0,1.6),(3.6,1.4),(4.2,1.2),(5,1.05),(6,0.9),(7,0.75),(8,0.6),
        (10,0.5),(1.7,1.8),(2.3,1.3),(0.9,2.2),(0.7,1.6),(0.55,3.2),(0.45,4.2),(0.35,6),(0.4,9),(0.8,0.23),(0.95,0.24),
        (3.6,0.28),(4.5,0.32),(2.5,0.45),
        (0.5,11),(0.65,13),(0.85,13.5),(1.0,11),(1.3,9.5),(1.6,8.5),(2.0,7),(2.4,9),(1.4,6.3),(1.8,5.6),(2.2,4.6),(0.75,5.5),
        (0.6,7),(1.0,4.2),(1.5,3.6),(2.7,2.9),(3.4,2.4),(0.9,3),(1.25,2.5)]
E_NI = [(0.1,0.9),(0.13,1.5),(0.18,2.3),(0.22,1.2),(0.25,3.4),(0.3,2.6),(0.35,1.0),(0.4,3.0),(0.45,1.7),(0.5,2.2),(0.55,1.3),
        (0.6,3.5),(0.65,1.9),(0.7,2.8),(0.75,1.0),(0.8,1.5),(0.85,2.4),(0.9,3.8),(1.0,1.2),(1.1,2.0),(1.2,3.0),(1.3,0.8),
        (1.4,1.6),(1.5,2.5),(1.6,1.1),(1.7,3.6),(1.8,0.65),(1.9,1.4),(2.0,2.1),(2.2,0.9),(2.4,1.8),(2.6,0.6),(2.8,1.2),
        (3.0,2.8),(3.2,0.75),(3.5,1.5),(3.8,0.55),(4.0,1.0),(4.3,2.0),(4.6,0.7),(5.0,1.3),(5.4,0.45),(5.8,0.9),(6.2,1.6),
        (6.6,0.6),(7.0,1.1),(7.5,0.4),(8.0,0.75),(8.5,1.4),(9.0,0.5),(10,0.9),(11,0.35),(12,0.6),(13,0.3),(15,0.33),
        (17,0.62),(13,0.22),(11,0.24),(9.5,0.27),(7.8,0.23),(6.5,0.3),(5.2,0.26),(4.2,0.33),(3.4,0.25),(2.5,0.36),(9,1.6),
        (12,1.5),(10,2.6),(8,4),(3.5,4.5),(2.5,5.2),(1.8,4.6),(1.4,5.5),(0.6,5),(0.4,6),(0.3,4),(2.0,0.5),(1.5,0.5),(0.8,0.7),
        (1.7,1.3),(2.1,1.55),(2.6,1.4),(3.1,1.05),(3.6,1.25),(2.3,1.0),(1.9,1.9),(2.9,1.75),(3.9,1.4),(4.6,1.05),(1.3,2.2)]
E_NR = [(0.2,7.5),(0.1,1.2),(0.1,1.05),(0.3,2.3),(0.35,1.6),(0.4,1.1),(0.45,0.8),(0.5,0.6),(0.6,1.3),(0.7,0.5),(0.8,0.85),
        (0.9,0.45),(1.0,0.7),(1.2,1.05),(1.4,0.55),(1.6,0.38),(1.8,0.8),(2.0,0.32),(2.5,0.5),(3.0,0.65),(3.5,0.4),(4,0.8),
        (4.5,0.55),(0.3,0.27),(0.28,0.9),(2.5,1.5),(3,2.5),(3.5,3.5),(4,5),(4.5,7),(5,9.5),(5.5,13),(6,16),(3.8,20),
        (4.2,25),(3,28),(6.5,22),(7,12),(7.5,8),(8,5.5),(8.5,3.8),(9,2.8),(9.5,2.1),(10,6.5),(10.5,4.5),(11,9),(12,15),
        (6,6),(5,4),(4,3),(7,3),(9,11),(8,18),(10,20),(5.5,27),(19,17),(20,16.5),(22,14),(19,7.8),(20,6.5),(20,6),(26,7),
        (19,1.1),(2,1.3),(2.8,1.8),(11,0.4)]
E_NC = [(1.2,0.21),(1.5,0.22),(1.8,0.21),(2.1,0.23),(2.5,0.21),(2.9,0.22),(3.4,0.21),(3.9,0.23),(4.5,0.21),(5.2,0.22),
        (6.0,0.21),(7.0,0.23),(8.0,0.21),(1.4,0.25),(1.7,0.27),(2.0,0.26),(2.4,0.28),(2.8,0.25),(3.2,0.27),(3.7,0.26),
        (4.3,0.28),(5.0,0.25),(5.8,0.27),(6.6,0.26),(7.5,0.25),(1.3,0.3),(1.6,0.32),(2.2,0.31),(2.6,0.33),(3.0,0.3),
        (3.5,0.32),(4.0,0.31),(4.8,0.33),(5.5,0.3),(6.3,0.32),(1.9,0.35),(2.3,0.37),(2.7,0.36),(3.3,0.38),(3.8,0.35),
        (4.4,0.37),(5.2,0.36),(2.0,0.4),(2.5,0.42),(3.0,0.41),(3.6,0.43),(4.2,0.4),(2.8,0.46),(3.4,0.48),(1.2,0.38),
        (1.0,0.28),(0.8,0.3),(0.7,0.38),(0.6,0.33),(0.5,0.4),(0.45,0.3),(0.4,0.26),(0.35,0.22),(0.3,0.35),(0.27,0.45),
        (0.33,0.55),(0.4,0.7),(0.5,0.6),(0.6,0.75),(0.7,0.55),(0.85,0.65),(0.95,0.5),(1.05,0.6),(0.55,0.95),(0.65,0.85),
        (0.75,1.05),(0.9,0.8),(1.0,1.0),(0.1,0.23),(0.18,0.37),(0.22,0.42),(9,0.3),(10,0.25),(11,0.22),(2.4,0.6),(3.2,0.55),
        (4.5,0.5),
        (1.35,0.23),(1.65,0.24),(1.95,0.22),(2.3,0.24),(2.7,0.23),(3.1,0.24),(3.6,0.23),(4.1,0.22),(4.8,0.24),(5.5,0.23),
        (6.4,0.22),(7.4,0.22),(1.5,0.28),(1.85,0.29),(2.2,0.27),(2.6,0.29),(3.0,0.28),(3.5,0.29),(4.0,0.27),(4.6,0.29),
        (5.3,0.28),(6.1,0.29),(7.0,0.28),(1.45,0.34),(1.75,0.35),(2.05,0.33),(2.45,0.34),(2.85,0.33),(3.3,0.34),(3.8,0.33),
        (4.4,0.34),(5.0,0.33),(5.8,0.34),(2.2,0.4),(2.7,0.39),(3.2,0.4),(3.8,0.39),(4.6,0.41),(1.7,0.42),(2.4,0.45),
        (3.0,0.45),(3.7,0.47),(2.1,0.5),(2.6,0.52),(4.0,0.52),(8.5,0.23),(9.5,0.22)]
E_QG = [(0.4,28),(0.6,26),(0.9,29),(1.2,27),(1.6,30),(0.5,22),(0.75,21),(1.0,20),(1.4,21),(1.9,22),(0.55,17),(0.8,16),
        (1.15,16.5),(1.5,17),(2.0,16),(0.65,13),(0.95,12.5),(1.3,13),(1.8,12.5),(2.4,12),(0.75,10),(1.1,10.2),(1.5,10),
        (2.1,9.8),(2.8,9.5),(0.9,8),(1.25,8.2),(1.7,8),(2.3,7.8),(1.1,6.3),(1.5,6.2),(2.0,6),(2.7,6.2),(1.3,4.8),(1.8,4.8),
        (2.4,4.6),(1.6,3.7),(2.2,3.6),(0.1,9),(0.11,14),(0.18,6),(0.1,6.3),(0.25,3.3)]
E_QS = [(0.1,4.8),(0.1,5.5),(0.14,22),(0.2,14),(0.23,13),(0.28,11),(0.3,9),(0.35,12),(0.4,18),(0.45,25),(0.5,19),(0.6,10),
        (0.7,14),(0.8,20),(0.9,8),(1.0,16),(1.2,9.5),(1.5,13),(1.8,6.5),(2.2,11),(2.6,5.5),(3.0,8),(3.5,4.5),(4,6),(5,2.8),
        (6,4),(7,2),(8,1.6),(10,1.2),(1.2,2.5),(1.6,3.5),(2.0,1.7),(3,1.2),(4,0.9),(6,0.8),(8,0.42),(0.5,6.5),(0.3,5.2),
        (1.3,30),(0.9,28)]
E_QI = [(0.1,5),(0.12,3.5),(0.16,6.2),(0.2,2.2),(0.3,3),(0.4,4.5),(0.5,2.5),(0.6,3.8),(0.7,1.6),(0.8,5.2),(0.9,2.0),
        (1.0,3.2),(1.2,1.3),(1.4,2.6),(1.6,4.0),(1.8,1.0),(2.0,1.8),(2.4,3.0),(2.8,0.8),(3.2,1.5),(3.6,2.2),(4.0,0.6),
        (4.5,1.2),(5,0.4),(5.5,0.85),(6,1.6),(7,0.5),(8,1.0),(9,0.3),(10,0.7),(11,0.45),(12,0.25),(13,0.22),(10,4.5),
        (11,5.5),(12,6.3),(0.1,1.1),(0.1,1.2)]
E_QR = [(1.2,30),(1.8,30),(2.5,29),(3.0,28),(3.5,30),(4,27),(5,29),(6,26),(7,28),(8,24),(9,27),(10,25),(12,22),(2.2,25),
        (2.8,23),(3.4,21),(4.2,20),(5.2,21),(6.3,19),(7.5,18),(8.8,17),(10,15),(11,12),(3.3,17),(4.5,15),(5.5,14),(6.5,13),
        (7.8,12),(9,10),(10.5,9.5),(5,11),(6,9),(7,7.5),(8,6),(9.5,5),(10,3.5),(11,8),(15,25),(17,21),(20,20),(26,24),
        (0.2,23),(0.3,17),(0.5,12),(0.7,9),(0.4,8),(0.6,6),(1.0,5),(0.28,2.2),(0.5,1.5),(0.3,0.95),(0.8,0.8),(0.2,0.75),
        (0.15,0.6)]
E_QC = [(0.1,0.75),(0.18,0.8),(0.3,0.62),(0.35,0.85),(0.4,0.5),(0.42,0.95),(0.5,0.65),(0.6,0.45),(0.7,0.9),(0.8,0.4),
        (1.2,0.5),(1.5,0.38),(2,0.3),(2.5,0.35),(3,0.25),(3.5,0.3),(4,0.45),(5,0.35),(6,0.28),(7,0.4),(1.8,0.65),(2.2,0.24),
        (0.55,0.27),(0.38,1.1)]

# ---------------- panel (f): TWP profiler, wind shear vs Z0 ----------------
F_ZG = [(4.8,30),(5.5,29),(6.2,30),(7.0,28),(8.0,29),(9.0,27),(5.0,25),(6.0,24),(7.2,25),(8.4,23),(4.5,21),(5.5,20),
        (6.6,21),(7.8,19),(9.2,20),(4.3,17),(5.2,16),(6.3,17),(7.5,15.5),(8.8,16),(4.6,14),(5.6,13),(6.8,13.5),(8.0,12.5),
        (9.5,13),(4.4,11.5),(5.3,11),(6.4,11),(7.6,10.5),(9.0,10),(4.2,9.5),(5.1,9),(6.1,9.2),(7.3,8.8),(8.6,8.5),(10,8.8),
        (4.5,8),(5.5,7.6),(6.6,7.4),(7.9,7.2),(9.3,7),(4.3,6.5),(5.2,6.2),(6.3,6.0),(7.5,5.8),(8.9,5.6),(4.6,5.3),(5.6,5.0),
        (6.7,4.8),(8.0,4.6),(9.5,4.5),(4.4,4.3),(5.3,4.1),(6.4,3.9),(7.6,3.7),(9.0,3.6),(4.7,3.4),(5.7,3.2),(6.8,3.1),
        (8.2,3.0),(10,3.0),(4.5,2.8),(5.4,2.7),(6.5,2.6),(7.8,2.5),(9.2,2.4),(4.8,2.3),(5.8,2.2),(7.0,2.1),(8.4,2.0),
        (5.0,1.9),(6.0,1.8),(7.3,1.7),(8.8,1.65),(5.3,1.55),(6.4,1.5),(7.7,1.4),(9.3,1.35),(5.6,1.25),(6.8,1.2),(8.2,1.15),
        (5.0,1.05),(6.1,1.0),(7.4,0.98),(9,0.95),(5.5,0.88),(6.7,0.85),(8,0.82),(6.0,0.75),(7.2,0.72),(5.3,0.65),(6.5,0.62),
        (8.5,0.6),(7.5,0.55),(6.0,0.5),(3.2,0.9),(2.8,0.9),(3.0,7.8),(3.5,9),(3.3,5.5),(3.6,4.1),(12,10),(13,8),(12.5,5.5),
        (16,4),(19,3.1),(20,2.8),(15,2.0),(17,1.8),(20,1.7),(14,1.2),(18,1.0),(25,1.0),(30,1.0),(13,0.8),(16,0.85),(23,0.55),
        (14,0.48),(12,0.62),(35,9.5),(34,4.0),(32,3.7),(35,3.3),(25,4.2),(22,2.3),(10.5,0.45),(9.5,0.35),(10,0.25),(7,0.3),
        (5.5,0.28),(6.9,11.8),(5.9,14.6),(7.1,6.6),(6.2,3.5),(7.3,2.35),(5.8,1.35),(7.9,9.6),(6.6,18.5),
        (5.0,22),(6.1,22.5),(7.3,23),(8.5,21.5),(5.8,18.5),(7.0,18),(8.2,17.5),(4.9,15.5),(6.0,15.2),(7.1,14.5),(8.4,14),
        (5.3,12.2),(6.3,12.5),(7.4,11.8),(8.5,11.2),(4.8,10.2),(5.8,9.8),(6.9,9.6),(8.1,9.3),(9.4,8.9),(5.0,8.4),(6.0,8.1),
        (7.1,7.9),(8.3,7.7),(4.8,7.0),(5.9,6.8),(6.9,6.6),(8.2,6.4),(9.2,6.2),(5.0,5.7),(6.0,5.5),(7.0,5.3),(8.3,5.1),
        (5.2,4.6),(6.2,4.4),(7.3,4.2),(8.5,4.0),(4.9,3.8),(5.9,3.7),(7.0,3.5),(8.0,3.4),(9.2,3.2),(5.2,3.0),(6.2,2.9),
        (7.3,2.8),(8.6,2.7),(5.0,2.55),(6.0,2.45),(7.0,2.35),(8.1,2.25),(5.4,2.05),(6.5,1.95),(7.6,1.9),(5.7,1.7),(6.8,1.62),
        (8.0,1.55),(6.0,1.42),(7.1,1.3),(6.4,1.12),(7.7,1.1),(5.8,1.0),(6.9,0.92),(7.8,0.78),(6.5,0.7),(7.0,0.62)]
F_ZS = [(3.5,4.8),(4.0,4.5),(3.2,3.5),(3.8,3.0),(4.5,2.7),(5.5,2.5),(3.6,2.2),(4.2,2.0),(5.0,1.9),(6.0,1.8),(3.4,1.7),
        (4.0,1.6),(4.8,1.5),(5.7,1.45),(7.0,1.4),(3.6,1.3),(4.3,1.25),(5.2,1.2),(6.2,1.15),(7.5,1.1),(9,1.05),(3.8,1.0),
        (4.6,0.97),(5.5,0.93),(6.6,0.9),(8,0.87),(10,0.85),(4.0,0.8),(4.8,0.77),(5.8,0.74),(7.0,0.72),(8.5,0.7),(3.5,0.68),
        (4.3,0.65),(5.2,0.62),(6.2,0.6),(7.5,0.58),(9.5,0.56),(4.5,0.53),(5.5,0.5),(6.6,0.48),(8,0.46),(3.9,0.45),(4.8,0.42),
        (5.8,0.4),(7,0.38),(8.5,0.36),(4.3,0.34),(5.2,0.32),(6.3,0.3),(7.6,0.29),(9.5,0.28),(4.6,0.27),(5.6,0.26),(6.8,0.25),
        (8.2,0.24),(4.8,0.23),(5.8,0.22),(7.2,0.22),(10,0.21),(5.2,0.21),(4.4,0.21),(3.2,0.65),(2.9,0.5),(3.0,1.1),(11,0.7),
        (12,1.3),(10.5,0.42),(11.5,0.32),(4.1,1.15),(5.0,0.72),(6.0,0.55),(4.5,0.38),(5.4,1.35),(6.9,0.95),(3.7,0.58),
        (4.2,1.4),(5.0,1.35),(6.3,1.3),(4.6,1.1),(5.5,1.05),(6.8,1.0),(4.3,0.9),(5.2,0.88),(6.1,0.82),(7.6,0.8),(4.7,0.7),
        (5.5,0.68),(6.4,0.66),(8.0,0.64),(4.1,0.6),(4.9,0.58),(5.9,0.56),(7.0,0.53),(4.4,0.5),(5.2,0.47),(6.1,0.45),
        (7.3,0.43),(4.7,0.4),(5.5,0.38),(6.5,0.36),(7.8,0.34),(5.0,0.33),(6.0,0.31),(7.0,0.3),(5.4,0.29),(6.3,0.27),
        (4.9,0.25),(6.0,0.24),(7.5,0.25),(5.4,0.23),(6.5,0.22)]
F_ZR = [(3.8,30),(4.5,30),(5.2,30),(6.0,30),(6.8,30),(7.5,30),(8.5,30),(9.5,29),(10.5,29),(4.0,28),(4.8,28),(5.6,28),
        (6.4,28),(7.2,28),(8.0,27),(9.0,27),(10,27),(11,26),(3.5,25),(4.2,25),(5.0,25),(5.8,25),(6.6,24),(7.5,24),(8.5,24),
        (9.5,23),(10.5,23),(3.8,22),(4.5,22),(5.3,21),(6.2,21),(7.2,21),(8.2,20),(9.2,20),(10.5,20),(3.5,19),(4.2,19),
        (5.0,18),(6.0,18),(7.0,18),(8.0,17),(9.0,17),(10.5,17),(11,15.5),(3.8,16),(4.5,15),(5.5,15),(6.5,14.5),(7.8,14),
        (9.2,14),(10.5,14),(4.0,13),(4.8,12.5),(5.8,12),(7.0,12),(8.5,12),(10,12),(11.5,12),(4.2,11),(5.0,10.5),(6.0,10),
        (7.5,10),(9.0,10),(10.5,10),(12,11),(4.5,9),(5.5,8.5),(11,9),(12,9.5),(13,8.5),(14,7.5),(15,6.8),(14,6.2),(12,7),
        (11,6),(11.5,5),(12,4.2),(13,3.6),(11,3.0),(12.5,2.5),(11,2.2),(10.5,1.8),(12,1.5),(13,1.2),(15,1.15),(17,1.05),
        (20,0.95),(24,1.0),(24,0.75),(24,0.6),(22,0.55),(20,0.5),(15,0.4),(11,0.35),(8,0.25),(13,11),(17,12),(18,13),(16,20),
        (19,22),(22,21),(20,24),(22,26),(17,25),(14,22),(5,5.6),(4.8,4.2),(5.2,3.0),(6.5,2.5),(7,1.5),(8.5,0.9),(9.5,0.6),
        (13,0.75),
        (4.2,29),(5.0,29),(5.8,29),(6.6,29),(7.4,29),(8.2,28.5),(9.2,28),(4.4,26.5),(5.2,26.5),(6.0,26.5),(6.8,26),(7.6,26),
        (8.6,25.5),(9.8,25),(4.0,23.5),(4.8,23.5),(5.6,23),(6.4,23),(7.2,22.5),(8.2,22),(9.4,21.5),(4.3,20.5),(5.1,20),
        (6.0,19.5),(6.9,19.5),(7.8,19),(4.7,17.5),(5.6,17),(6.6,16.5),(7.6,16),(8.8,15.5),(4.3,14),(5.1,13.8),(6.0,13.5),
        (7.2,13),(9.5,11.5),(10.8,11)]

# ---------------- styling ----------------
COLORS = {"G": "#FF2BFF", "S": "#FFA500", "I": "#FF0000", "R": "#0B7A0B", "C": "#1F55FF"}
FONT = "Liberation Sans, Arial, Helvetica, sans-serif"
MONO = "Liberation Mono, Courier New, monospace"
W, H = 1202, 892

COL_X = [(88, 406), (489, 806), (884, 1202)]
ROW_Y = [(65, 382), (502, 819)]
X_RANGE_TOP = [-2, 1.786]
X_RANGE_BOT = [-1, 2.786]
Y_RANGE = [-1, 1.594]

def fx(px):
    return px / W

def fy(py):
    return 1 - py / H

def minor_vals(k0, k1, vmax):
    out = []
    for k in range(k0, k1 + 1):
        for m in range(2, 10):
            v = m * 10.0 ** k
            if v <= vmax:
                out.append(v)
    return out

MINOR_X_TOP = minor_vals(-2, 1, 62)
MINOR_X_BOT = minor_vals(-1, 2, 620)
MINOR_Y = minor_vals(-1, 1, 40)

def legend_label(name, c):
    if c is None:
        return name
    sign = "\u2212" if c < 0 else "\u00a0"
    return f"{name}\u00a0({sign}{abs(c):.2f})"

panels = [
    (0, 0, SIM_NAMES, [A_NG, A_NS, A_NI, A_NR, A_NC, A_QG, A_QS, A_QI, A_QR, A_QC], CORR_A),
    (0, 1, SIM_NAMES, [B_NG, B_NS, B_NI, B_NR, B_NC, B_QG, B_QS, B_QI, B_QR, B_QC], CORR_B),
    (0, 2, PROF_NAMES, [C_ZG, C_ZS, C_ZR], CORR_C),
    (1, 0, SIM_NAMES, [D_NG, D_NS, D_NI, D_NR, D_NC, D_QG, D_QS, D_QI, D_QR, D_QC], CORR_D),
    (1, 1, SIM_NAMES, [E_NG, E_NS, E_NI, E_NR, E_NC, E_QG, E_QS, E_QI, E_QR, E_QC], CORR_E),
    (1, 2, PROF_NAMES, [F_ZG, F_ZS, F_ZR], CORR_F),
]

LEGEND_POS = [(329, 157), (729, 157), (890, 307), (329, 593), (729, 593), (1059, 742)]
LABEL_POS = [(375, 105), (780, 105), (1171, 105), (375, 545), (780, 545), (1170, 545)]
XTITLE_X = [247, 647, 1043]
XTITLE_Y = [447, 887]

fig = go.Figure()
layout = dict(width=W, height=H, margin=dict(l=0, r=0, t=0, b=0),
              paper_bgcolor="white", plot_bgcolor="white", showlegend=True,
              font=dict(family=FONT, color="black"))
annotations = []

for idx, (r, c, names, series, corr) in enumerate(panels):
    n = idx + 1
    xa = "x" if n == 1 else f"x{n}"
    ya = "y" if n == 1 else f"y{n}"
    lg = f"legend{n + 1}"
    for name, pts, cv in zip(names, series, corr):
        if pts:
            xs = [p[0] for p in pts]
            ys = [p[1] for p in pts]
        else:
            xs, ys = [None], [None]
        col = COLORS[name[1]]
        if name[0] == "N":
            marker = dict(symbol="circle-open", size=4, color=col, line=dict(width=1.1, color=col))
        elif name[0] == "Q":
            marker = dict(symbol="cross-thin", size=5, color=col, line=dict(width=1.5, color=col))
        else:
            marker = dict(symbol="square-open", size=4.5, color=col, line=dict(width=1.0, color=col))
        fig.add_trace(go.Scatter(x=xs, y=ys, mode="markers", marker=marker,
                                 name=legend_label(name, cv), xaxis=xa, yaxis=ya,
                                 legend=lg, hoverinfo="skip"))
    x0, x1 = COL_X[c]
    y0, y1 = ROW_Y[r]
    top = r == 0
    common = dict(type="log", showline=True, linecolor="black", linewidth=2, mirror="ticks",
                  ticks="outside", ticklen=8, tickwidth=2, tickcolor="black", showgrid=False,
                  zeroline=False, tickmode="array", tickfont=dict(family=FONT, size=16, color="black"))
    layout["xaxis" if n == 1 else f"xaxis{n}"] = dict(
        common, domain=[fx(x0), min(fx(x1), 1.0)], anchor=ya,
        range=X_RANGE_TOP if top else X_RANGE_BOT,
        tickvals=X_TOP_TICKS if top else X_BOT_TICKS,
        ticktext=X_TOP_TEXT if top else X_BOT_TEXT,
        ticklabelstandoff=21,
        minor=dict(tickmode="array", tickvals=MINOR_X_TOP if top else MINOR_X_BOT,
                   ticks="outside", ticklen=5, tickwidth=1.5, tickcolor="black", showgrid=False))
    layout["yaxis" if n == 1 else f"yaxis{n}"] = dict(
        common, domain=[fy(y1), fy(y0)], anchor=xa, range=Y_RANGE,
        tickvals=Y_TICKS, ticktext=Y_TEXT, ticklabelstandoff=14,
        minor=dict(tickmode="array", tickvals=MINOR_Y, ticks="outside", ticklen=5,
                   tickwidth=1.5, tickcolor="black", showgrid=False))
    lx, ly = LEGEND_POS[idx]
    layout[lg] = dict(x=fx(lx), y=fy(ly), xanchor="left", yanchor="top", bgcolor="white",
                      bordercolor="#333333", borderwidth=1.5, tracegroupgap=0,
                      font=dict(family=MONO, size=14, color="#222222"))
    px, py = LABEL_POS[idx]
    annotations.append(dict(text=PANEL_LABELS[idx], x=fx(px), y=fy(py), xref="paper", yref="paper",
                            xanchor="center", yanchor="middle", showarrow=False,
                            font=dict(family=FONT, size=37, color="black")))
    annotations.append(dict(text=X_TOP_TITLE if top else X_BOT_TITLE, x=fx(XTITLE_X[c]),
                            y=fy(XTITLE_Y[r]), xref="paper", yref="paper",
                            xanchor="center", yanchor="middle", showarrow=False,
                            font=dict(family=FONT, size=17, color="black")))

for yc in (222, 657):
    annotations.append(dict(text=Y_TITLE, x=fx(20), y=fy(yc), xref="paper", yref="paper",
                            xanchor="center", yanchor="middle", showarrow=False, textangle=-90,
                            font=dict(family=FONT, size=17, color="black")))
for t, xc in zip(COL_TITLES, (277, 690, 1050)):
    annotations.append(dict(text=t, x=fx(xc), y=fy(22), xref="paper", yref="paper",
                            xanchor="center", yanchor="middle", showarrow=False,
                            font=dict(family=FONT, size=25, color="black")))

layout["annotations"] = annotations
fig.update_layout(**layout)
fig.write_html("out.html")
